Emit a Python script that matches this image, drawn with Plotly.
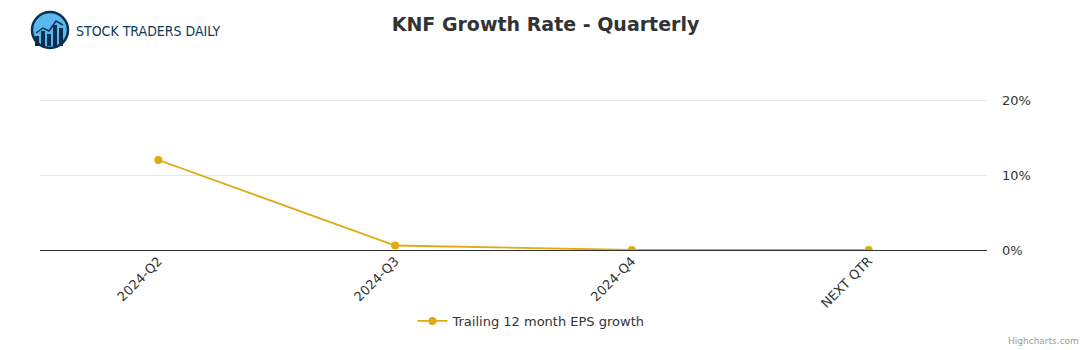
import plotly.graph_objects as go

categories = ["2024-Q2", "2024-Q3", "2024-Q4", "NEXT QTR"]
eps_growth = [12.0, 0.6, 0.0, 0.0]
y_ticks = [0, 10, 20]
y_tick_labels = ["0%", "10%", "20%"]
series_name = "Trailing 12 month EPS growth"

fig = go.Figure()
fig.add_trace(go.Scatter(
    x=categories, y=eps_growth, mode="lines+markers", name=series_name,
    line=dict(color="#E0AA12", width=1.8),
    marker=dict(color="#E0AA12", size=8),
))

ymax = 20.4
plot_h = 150 * ymax / 20
top_m = 250 - plot_h

fig.update_layout(
    width=1091, height=350,
    margin=dict(l=40, r=104, t=top_m, b=100),
    paper_bgcolor="white", plot_bgcolor="white",
    font=dict(family="DejaVu Sans, Open Sans, sans-serif", color="#333333", size=13),
    title=dict(text="<b>KNF Growth Rate - Quarterly</b>", x=0.5, xanchor="center",
               y=1 - 24 / 350, yanchor="middle",
               font=dict(size=19, color="#333333", family="DejaVu Sans, sans-serif")),
    showlegend=True,
    legend=dict(orientation="h", x=0.519, xanchor="center", y=-(71 / plot_h), yanchor="middle",
                font=dict(size=13, color="#333333")),
    xaxis=dict(type="category", range=[-0.5, 3.5], tickangle=-45, showgrid=False,
               showline=False, ticks="", tickfont=dict(size=13, color="#333333"), zeroline=False),
    yaxis=dict(side="right", range=[0, ymax], tickvals=y_ticks, ticktext=y_tick_labels,
               showgrid=True, gridcolor="#e6e6e6", gridwidth=1,
               zeroline=True, zerolinecolor="#333333", zerolinewidth=1,
               showline=False, ticks="", ticklabelstandoff=14,
               tickfont=dict(size=13, color="#333333")),
)

def px(x):
    return (x - 40) / 947
def py(y):
    return (250 - y) / plot_h

# Logo: circle with bars
cx, cy, r = 50, 30, 18
fig.add_shape(type="circle", xref="paper", yref="paper",
              x0=px(cx - r), x1=px(cx + r), y0=py(cy + r), y1=py(cy - r),
              fillcolor="#5bb8ee", line=dict(color="#0d2f4f", width=2.5), layer="above")
for bx, top in [(37, 36), (43, 31), (49, 34), (55, 25), (61, 28)]:
    fig.add_shape(type="rect", xref="paper", yref="paper",
                  x0=px(bx - 2), x1=px(bx + 2), y0=py(46), y1=py(top),
                  fillcolor="#0d2f4f", line=dict(width=0), layer="above")
fig.add_shape(type="path", xref="paper", yref="paper",
              path=f"M {px(36)},{py(33)} L {px(43)},{py(28)} L {px(49)},{py(31)} L {px(56)},{py(21)} L {px(63)},{py(25)}",
              line=dict(color="#0d2f4f", width=1.5), layer="above")
fig.add_annotation(xref="paper", yref="paper", x=px(74), y=py(31), xanchor="left", yanchor="middle",
                   text="STOCK TRADERS DAILY", showarrow=False,
                   font=dict(family="DejaVu Sans Condensed, DejaVu Sans, sans-serif",
                             size=14, color="#0d3a5c"))
fig.add_annotation(xref="paper", yref="paper", x=px(1081), y=py(341), xanchor="right", yanchor="middle",
                   text="Highcharts.com", showarrow=False,
                   font=dict(size=9, color="#999999"))

fig.write_html("out.html")
